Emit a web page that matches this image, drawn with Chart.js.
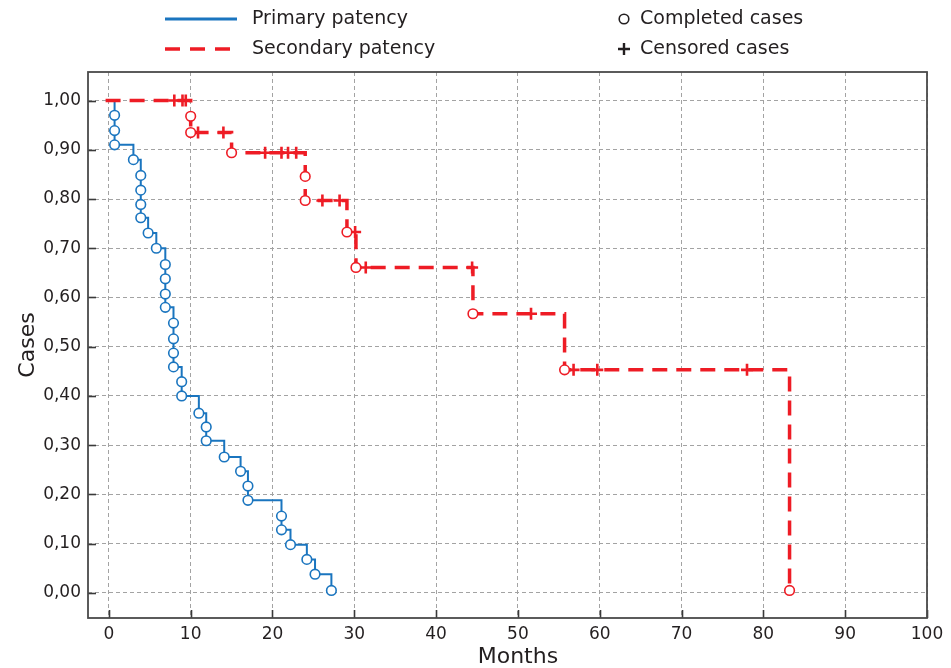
<!DOCTYPE html>
<html>
<head>
<meta charset="utf-8">
<script src="https://cdn.jsdelivr.net/npm/chart.js@4/dist/chart.umd.min.js"></script>
<style>
  html, body { margin: 0; padding: 0; background: #ffffff; }
  #wrap { position: relative; width: 951px; height: 668px; }
</style>
</head>
<body>
<div id="wrap"><canvas id="c" width="951" height="668"></canvas></div>
<script>
// ---- data (status: 0 = start, 1 = completed case, 2 = censored case) ----
const primaryMonths = [0, 0.7, 0.7, 0.7, 3.0, 3.9, 3.9, 3.9, 3.9, 4.8, 5.8, 6.9, 6.9, 6.9, 6.9, 7.9, 7.9, 7.9, 7.9, 8.9, 8.9, 11.0, 11.9, 11.9, 14.1, 16.1, 17.0, 17.0, 21.1, 21.1, 22.2, 24.2, 25.2, 27.2];
const primaryCases  = [1.0, 0.970, 0.939, 0.910, 0.880, 0.848, 0.818, 0.789, 0.762, 0.731, 0.700, 0.667, 0.638, 0.607, 0.580, 0.548, 0.516, 0.487, 0.459, 0.429, 0.400, 0.365, 0.337, 0.309, 0.276, 0.247, 0.217, 0.188, 0.156, 0.128, 0.098, 0.068, 0.038, 0.005];
const primaryStatus = [0, 1, 1, 1, 1, 1, 1, 1, 1, 1, 1, 1, 1, 1, 1, 1, 1, 1, 1, 1, 1, 1, 1, 1, 1, 1, 1, 1, 1, 1, 1, 1, 1, 1];

const secondaryMonths = [-0.4, 8.0, 9.0, 9.4, 10.0, 10.0, 10.9, 14.0, 15.0, 19.1, 21.1, 21.9, 22.9, 24.0, 24.0, 26.1, 28.2, 29.1, 30.1, 30.2, 31.4, 44.4, 44.5, 51.6, 55.7, 56.8, 59.7, 78.0, 83.2];
const secondaryCases  = [1.0, 1.0, 1.0, 1.0, 0.968, 0.935, 0.935, 0.935, 0.894, 0.894, 0.894, 0.894, 0.894, 0.846, 0.797, 0.797, 0.797, 0.733, 0.733, 0.661, 0.661, 0.661, 0.567, 0.567, 0.453, 0.453, 0.453, 0.453, 0.005];
const secondaryStatus = [0, 2, 2, 2, 1, 1, 2, 2, 1, 2, 2, 2, 2, 1, 1, 2, 2, 1, 2, 1, 2, 2, 1, 2, 1, 2, 2, 2, 1];

const seriesNames = ['Primary patency', 'Secondary patency'];
const markerNames = ['Completed cases', 'Censored cases'];
const xTicks = [0, 10, 20, 30, 40, 50, 60, 70, 80, 90, 100];
const yTicks = [0, 0.1, 0.2, 0.3, 0.4, 0.5, 0.6, 0.7, 0.8, 0.9, 1.0];
const yTickLabels = ['0,00', '0,10', '0,20', '0,30', '0,40', '0,50', '0,60', '0,70', '0,80', '0,90', '1,00'];
const xTitle = 'Months';
const yTitle = 'Cases';

// ---- styles ----
const BLUE = '#1a75bf';
const RED = '#ee1c25';
const INK = '#231f20';
const FONT = '"DejaVu Sans", "Liberation Sans", sans-serif';

function pts(xs, ys, st, keep) {
  const out = [];
  for (let i = 0; i < xs.length; i++) {
    if (keep === null || st[i] === keep) out.push({ x: xs[i], y: ys[i] });
  }
  return out;
}

const framePlugin = {
  id: 'frameAndLegend',
  afterDatasetsDraw(chart) {
    const ctx = chart.ctx;
    const a = chart.chartArea;
    const xs = chart.scales.x, ys = chart.scales.y;
    ctx.save();
    // inward ticks
    ctx.strokeStyle = '#3a3a3a';
    ctx.lineWidth = 1.6;
    ctx.setLineDash([]);
    xTicks.forEach(v => {
      const px = Math.round(xs.getPixelForValue(v)) + 0.5;
      ctx.beginPath(); ctx.moveTo(px, a.bottom); ctx.lineTo(px, a.bottom - 8); ctx.stroke();
    });
    yTicks.forEach(v => {
      const py = Math.round(ys.getPixelForValue(v)) + 0.5;
      ctx.beginPath(); ctx.moveTo(a.left, py); ctx.lineTo(a.left + 8, py); ctx.stroke();
    });
    // frame
    ctx.strokeStyle = '#4a4a4a';
    ctx.lineWidth = 1.8;
    ctx.strokeRect(a.left, a.top, a.right - a.left, a.bottom - a.top);
    ctx.restore();
  },
  afterDraw(chart) {
    const ctx = chart.ctx;
    const a = chart.chartArea;
    const xs = chart.scales.x;
    ctx.save();
    // axis titles
    ctx.fillStyle = INK;
    ctx.font = '22px ' + FONT;
    ctx.textAlign = 'center';
    ctx.textBaseline = 'middle';
    ctx.fillText(xTitle, xs.getPixelForValue(50), 657);
    ctx.translate(28, (a.top + a.bottom) / 2);
    ctx.rotate(-Math.PI / 2);
    ctx.fillText(yTitle, 0, 0);
    ctx.restore();

    // legend
    ctx.save();
    ctx.font = '19px ' + FONT;
    ctx.fillStyle = INK;
    ctx.textAlign = 'left';
    ctx.textBaseline = 'middle';
    // primary
    ctx.strokeStyle = BLUE; ctx.lineWidth = 3; ctx.setLineDash([]);
    ctx.beginPath(); ctx.moveTo(165, 19); ctx.lineTo(237, 19); ctx.stroke();
    ctx.fillText(seriesNames[0], 252, 19);
    // secondary
    ctx.strokeStyle = RED; ctx.lineWidth = 3.5; ctx.setLineDash([15, 10]);
    ctx.beginPath(); ctx.moveTo(165, 49); ctx.lineTo(233, 49); ctx.stroke();
    ctx.setLineDash([]);
    ctx.fillText(seriesNames[1], 252, 49);
    // completed marker
    ctx.strokeStyle = INK; ctx.lineWidth = 1.6;
    ctx.beginPath(); ctx.arc(624, 19, 4.8, 0, Math.PI * 2); ctx.stroke();
    ctx.fillText(markerNames[0], 640, 19);
    // censored marker
    ctx.lineWidth = 2.4;
    ctx.beginPath(); ctx.moveTo(618, 49); ctx.lineTo(630, 49); ctx.moveTo(624, 43); ctx.lineTo(624, 55); ctx.stroke();
    ctx.fillText(markerNames[1], 640, 49);
    ctx.restore();
  }
};

const data = {
  datasets: [
    {
      label: seriesNames[0] + ' completed',
      data: pts(primaryMonths, primaryCases, primaryStatus, 1),
      showLine: false,
      pointStyle: 'circle',
      pointRadius: 4.8,
      pointBackgroundColor: '#ffffff',
      pointBorderColor: BLUE,
      pointBorderWidth: 1.6,
      order: 1
    },
    {
      label: seriesNames[1] + ' completed',
      data: pts(secondaryMonths, secondaryCases, secondaryStatus, 1),
      showLine: false,
      pointStyle: 'circle',
      pointRadius: 4.8,
      pointBackgroundColor: '#ffffff',
      pointBorderColor: RED,
      pointBorderWidth: 1.6,
      order: 2
    },
    {
      label: seriesNames[1] + ' censored',
      data: pts(secondaryMonths, secondaryCases, secondaryStatus, 2),
      showLine: false,
      pointStyle: 'cross',
      pointRadius: 6,
      pointBorderColor: RED,
      pointBorderWidth: 2.6,
      order: 3
    },
    {
      label: seriesNames[1],
      data: pts(secondaryMonths, secondaryCases, secondaryStatus, null),
      showLine: true,
      stepped: 'before',
      borderColor: RED,
      borderWidth: 3.5,
      borderDash: [15, 9],
      borderJoinStyle: 'miter',
      borderCapStyle: 'butt',
      pointRadius: 0,
      fill: false,
      order: 4
    },
    {
      label: seriesNames[0],
      data: pts(primaryMonths, primaryCases, primaryStatus, null),
      showLine: true,
      stepped: 'before',
      borderColor: BLUE,
      borderWidth: 2,
      borderJoinStyle: 'miter',
      pointRadius: 0,
      fill: false,
      order: 5
    }
  ]
};

new Chart(document.getElementById('c'), {
  type: 'scatter',
  data: data,
  plugins: [framePlugin],
  options: {
    responsive: false,
    animation: false,
    devicePixelRatio: 1,
    layout: { padding: { left: 0, top: 72, right: 24, bottom: 0 } },
    plugins: { legend: { display: false }, tooltip: { enabled: false } },
    scales: {
      x: {
        type: 'linear',
        min: -2.55,
        max: 100,
        afterBuildTicks: s => { s.ticks = xTicks.map(v => ({ value: v })); },
        afterFit: s => { s.height = 50; },
        grid: { color: '#a3a3a3', lineWidth: 1, drawTicks: false },
        border: { display: false, dash: [4, 3] },
        ticks: { color: INK, font: { family: FONT, size: 17 }, padding: 6, maxRotation: 0, autoSkip: false,
                 callback: v => String(v) }
      },
      y: {
        type: 'linear',
        min: -0.051,
        max: 1.058,
        afterBuildTicks: s => { s.ticks = yTicks.map(v => ({ value: v })); },
        afterFit: s => { s.width = 88; },
        grid: { color: '#a3a3a3', lineWidth: 1, drawTicks: false },
        border: { display: false, dash: [4, 3] },
        ticks: { color: INK, font: { family: FONT, size: 17 }, padding: 7, autoSkip: false,
                 callback: (v, i) => yTickLabels[yTicks.findIndex(t => Math.abs(t - v) < 1e-6)] }
      }
    }
  }
});
</script>
</body>
</html>
